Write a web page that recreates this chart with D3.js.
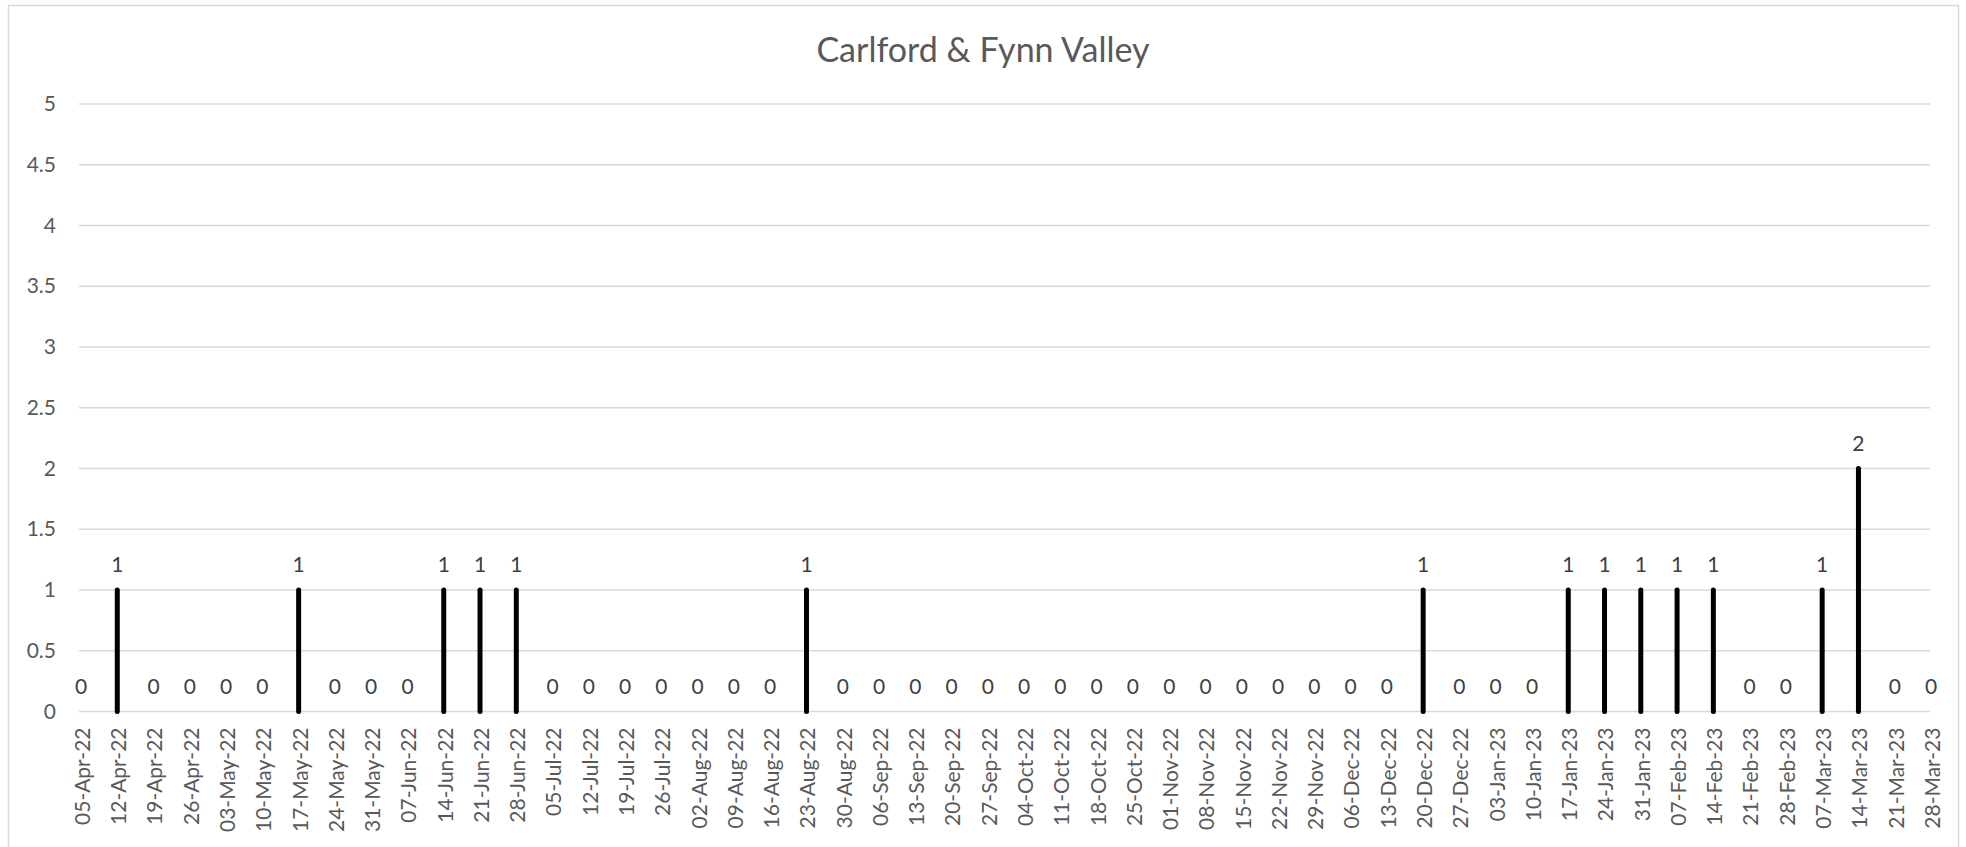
<!DOCTYPE html>
<html>
<head>
<meta charset="utf-8">
<script src="https://cdn.jsdelivr.net/npm/d3@7"></script>
<style>
  html, body { margin: 0; padding: 0; background: #fff; }
  svg { display: block; font-family: Lato, "Open Sans", sans-serif; }
</style>
</head>
<body>
<div id="chart"></div>
<script>
// Weekly counts, Carlford & Fynn Valley
const weeks = [
  '05-Apr-22', '12-Apr-22', '19-Apr-22', '26-Apr-22', '03-May-22', '10-May-22', '17-May-22',
  '24-May-22', '31-May-22', '07-Jun-22', '14-Jun-22', '21-Jun-22', '28-Jun-22', '05-Jul-22',
  '12-Jul-22', '19-Jul-22', '26-Jul-22', '02-Aug-22', '09-Aug-22', '16-Aug-22', '23-Aug-22',
  '30-Aug-22', '06-Sep-22', '13-Sep-22', '20-Sep-22', '27-Sep-22', '04-Oct-22', '11-Oct-22',
  '18-Oct-22', '25-Oct-22', '01-Nov-22', '08-Nov-22', '15-Nov-22', '22-Nov-22', '29-Nov-22',
  '06-Dec-22', '13-Dec-22', '20-Dec-22', '27-Dec-22', '03-Jan-23', '10-Jan-23', '17-Jan-23',
  '24-Jan-23', '31-Jan-23', '07-Feb-23', '14-Feb-23', '21-Feb-23', '28-Feb-23', '07-Mar-23',
  '14-Mar-23', '21-Mar-23', '28-Mar-23'
];
const counts = [
  0, 1, 0, 0, 0, 0, 1,
  0, 0, 0, 1, 1, 1, 0,
  0, 0, 0, 0, 0, 0, 1,
  0, 0, 0, 0, 0, 0, 0,
  0, 0, 0, 0, 0, 0, 0,
  0, 0, 1, 0, 0, 0, 1,
  1, 1, 1, 1, 0, 0, 1,
  2, 0, 0
];
const yTicks = [0, 0.5, 1, 1.5, 2, 2.5, 3, 3.5, 4, 4.5, 5];
const title = 'Carlford & Fynn Valley';

const width = 1966;
const height = 847;
const textColor = '#595959';
const gridColor = '#d9d9d9';

const svg = d3.select('#chart')
  .append('svg')
  .attr('width', width)
  .attr('height', height);

// Chart area border
svg.append('rect')
  .attr('x', 8.5).attr('y', 5.5)
  .attr('width', 1950).attr('height', 850)
  .attr('fill', '#fff')
  .attr('stroke', gridColor)
  .attr('stroke-width', 1.5);

const x = d3.scalePoint()
  .domain(weeks)
  .range([81, 1931]);

const y = d3.scaleLinear()
  .domain([0, 5])
  .range([711.5, 104]);

const plotLeft = 79;
const plotRight = 1930;

// Gridlines
svg.append('g')
  .selectAll('line')
  .data(yTicks)
  .join('line')
  .attr('x1', plotLeft)
  .attr('x2', plotRight)
  .attr('y1', d => y(d))
  .attr('y2', d => y(d))
  .attr('stroke', gridColor)
  .attr('stroke-width', 1.3);

// Y axis
const yAxis = svg.append('g')
  .attr('transform', `translate(${plotLeft - 17},0)`)
  .call(d3.axisLeft(y).tickValues(yTicks).tickSize(0).tickPadding(6).tickFormat(d3.format('')));
yAxis.select('.domain').remove();
yAxis.selectAll('text')
  .attr('fill', textColor)
  .attr('font-size', '21px')
  .attr('font-family', 'Lato, sans-serif');

// X axis (rotated category labels)
const xAxis = svg.append('g')
  .attr('transform', `translate(0,${y(0)})`)
  .call(d3.axisBottom(x).tickSize(0).tickPadding(0));
xAxis.select('.domain').remove();
xAxis.selectAll('text')
  .attr('fill', textColor)
  .attr('font-size', '21px')
  .attr('font-family', 'Lato, sans-serif')
  .attr('text-anchor', 'end')
  .attr('y', 1)
  .attr('dy', '0.35em')
  .attr('transform', 'translate(0,16) rotate(-90)');

// Bars as thick drop lines
svg.append('g')
  .selectAll('line')
  .data(weeks.map((w, i) => ({ week: w, value: counts[i] })).filter(d => d.value > 0))
  .join('line')
  .attr('x1', d => x(d.week))
  .attr('x2', d => x(d.week))
  .attr('y1', y(0))
  .attr('y2', d => y(d.value))
  .attr('stroke', '#000')
  .attr('stroke-width', 5)
  .attr('stroke-linecap', 'round');

// Value labels
svg.append('g')
  .selectAll('text')
  .data(weeks.map((w, i) => ({ week: w, value: counts[i] })))
  .join('text')
  .attr('x', d => x(d.week))
  .attr('y', d => y(d.value) - 25)
  .attr('dy', '0.35em')
  .attr('text-anchor', 'middle')
  .attr('fill', '#404040')
  .attr('font-size', '21px')
  .text(d => d.value);

// Title
svg.append('text')
  .attr('x', 983)
  .attr('y', 62)
  .attr('text-anchor', 'middle')
  .attr('fill', textColor)
  .attr('font-size', '34px')
  .text(title);
</script>
</body>
</html>
